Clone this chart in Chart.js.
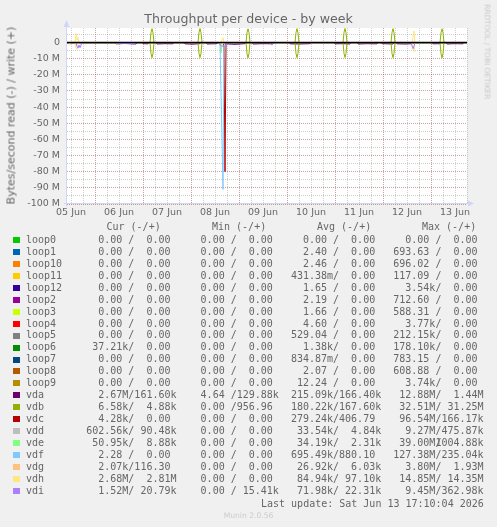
<!DOCTYPE html>
<html>
<head>
<meta charset="utf-8">
<title>Throughput per device - by week</title>
<script src="https://cdn.jsdelivr.net/npm/chart.js@4.4.1/dist/chart.umd.min.js"></script>
<style>
  body { margin: 0; background: #f0f0f0; }
  #page { position: relative; width: 497px; height: 527px; overflow: hidden; }
  #chart { position: absolute; left: 0; top: 0; }
  .txt { position: absolute; white-space: pre; color: #666; font-family: "DejaVu Sans", sans-serif; line-height: 1; }
  .mono { font-family: "DejaVu Sans Mono", monospace; font-size: 10px; }
  .swatch { position: absolute; width: 7px; height: 6px; }
  .cell { display: inline-block; position: relative; width: 15ch; }
  .cell .w { position: absolute; right: 0; top: 0; }
</style>
</head>
<body>
<div id="page">
  <canvas id="chart" width="497" height="527"></canvas>
  <div class="txt" style="left:0;width:497px;text-align:center;top:13.4px;font-size:12.6px;">Throughput per device - by week</div>
  <div class="txt" style="left:-139px;width:300px;top:109.5px;font-size:11px;text-align:center;transform:rotate(-90deg);">Bytes/second read (-) / write (+)</div>
  <div class="txt" style="left:387px;width:200px;top:48.3px;font-size:7.4px;text-align:center;color:#c8c8c8;transform:rotate(90deg);">RRDTOOL / TOBI OETIKER</div>
  <div class="txt" style="left:0;width:497px;text-align:center;top:512.1px;font-size:7.6px;color:#cccccc;">Munin 2.0.56</div>
  <div id="legend"></div>
</div>
<script>
// devices in munin order, with the munin palette
const devices = ['loop0', 'loop1', 'loop10', 'loop11', 'loop12', 'loop2', 'loop3', 'loop4', 'loop5', 'loop6', 'loop7', 'loop8', 'loop9',
  'vda', 'vdb', 'vdc', 'vdd', 'vde', 'vdf', 'vdg', 'vdh', 'vdi'];
const deviceColors = ['#00CC00', '#0066B3', '#FF8000', '#FFCC00', '#330099', '#990099', '#CCFF00', '#FF0000', '#808080', '#008F00', '#00487D', '#B35A00', '#B38F00',
  '#6B006B', '#8FB300', '#B30000', '#BEBEBE', '#80FF80', '#80C9FF', '#FFC080', '#FFE680', '#AA80FF'];

const dayLabels = ['05 Jun', '06 Jun', '07 Jun', '08 Jun', '09 Jun', '10 Jun', '11 Jun', '12 Jun', '13 Jun'];

// hours since 05 Jun 00:00, values in MB/s (read drawn negative, write positive)
const zeroHours = [10, 210];
const zeroValues = [0, 0];

const vdaHours = [10, 34, 34.5, 39, 44.5, 45, 47.5, 48, 50.5, 51, 54.5, 55, 59, 63, 63.5, 68.5, 69, 73, 76.5, 77, 79.5, 80, 85, 85.5,
  88.5, 89, 94, 99, 99.5, 102.5, 103, 108, 113, 113.5, 121, 121.5, 126, 131.5, 132, 143.5, 144, 148, 151.5, 152, 155, 155.5,
  160, 165, 165.5, 167, 167.5, 173, 173.5, 174.5, 175, 179, 183, 183.5, 192.5, 193, 196.5, 197, 199.5, 200, 204, 208, 208.5, 210];
const vdaRead = [0, 0, 0.8, 0.6, 0.9, 0, 0, 0.7, 0.8, 0, 0, 0.9, 0.7, 0.8, 0, 0, 0.8, 1.0, 0.7, 0, 0, 0.9, 0.7, 0,
  0, 0.8, 1.1, 0.7, 0, 0, 0.9, 0.7, 0.8, 0, 0, 0.8, 0.9, 0.7, 0, 0, 0.8, 0.7, 0.9, 0, 0, 0.9,
  0.7, 0.8, 0, 0, 0.7, 0.9, 0, 0, 0.8, 0.9, 0.7, 0, 0, 0.8, 0.7, 0, 0, 0.9, 0.7, 0.8, 0, 0];

const vdbHours = [10, 51.5, 52, 52.5, 53, 53.5, 75.5, 76, 76.5, 77, 77.5, 99.5, 100, 100.5, 101, 101.5, 124, 124.5, 125, 125.5, 126,
  148, 148.5, 149, 149.5, 150, 172, 172.5, 173, 173.5, 174, 196.5, 197, 197.5, 198, 198.5, 210];
const vdbRead = [0, 0, 6.8, 9.4, 6.6, 0, 0, 6.7, 9.3, 6.8, 0, 0, 6.9, 9.5, 6.7, 0, 0, 6.8, 9.4, 6.6, 0,
  0, 6.7, 9.3, 6.8, 0, 0, 6.8, 9.4, 6.7, 0, 0, 6.9, 9.5, 6.8, 0, 0];
const vdbWrite = [0, 0, 6.2, 8.6, 6.0, 0, 0, 6.3, 8.7, 6.1, 0, 0, 6.1, 8.5, 6.2, 0, 0, 6.2, 8.6, 6.0, 0,
  0, 6.3, 8.7, 6.1, 0, 0, 6.2, 8.6, 6.1, 0, 0, 6.1, 8.5, 6.2, 0, 0];

const vdcHours = [10, 88, 88.5, 89, 89.5, 90, 210];
const vdcRead = [0, 0, 2.5, 80, 1.0, 0, 0];

const vdeHours = [10, 86, 86.5, 87, 87.5, 88, 210];
const vdeRead = [0, 0, 0.5, 6.5, 0.8, 0, 0];

const vdfHours = [10, 86, 86.5, 88, 88.5, 89, 210];
const vdfRead = [0, 0, 1.0, 91, 1.5, 0, 0];

const vdgHours = [10, 11, 11.5, 12, 34.5, 35, 35.5, 210];
const vdgRead = [0, 0, 1.2, 0, 0, 1.5, 0, 0];

const vdhHours = [10, 14, 14.5, 15, 15.5, 16, 87, 87.5, 88, 88.5, 182.5, 183, 183.5, 184, 210];
const vdhRead = [0, 0, 3.5, 4.2, 1.0, 0, 0, 0.5, 0.8, 0, 0, 2.5, 5.6, 0, 0];
const vdhWrite = [0, 0, 5.8, 1.5, 3.2, 0, 0, 2.0, 3.0, 0, 0, 3.5, 7.2, 0, 0];

const vdiHours = [10, 14.5, 15, 15.5, 16, 16.5, 17.5, 34.5, 35, 44, 44.5, 86, 86.5, 87.5, 88.5, 89.5, 90, 111.5, 112, 112.5, 113, 182, 182.5, 183, 183.5, 184, 210];
const vdiRead = [0, 0, 2.5, 3.5, 1.5, 3.2, 0, 0, 0.6, 0.6, 0, 0, 1.5, 2.2, 2.5, 1.8, 0, 0, 0.6, 1.6, 0, 0, 2.0, 3.8, 2.2, 0, 0];

// legend statistics, read / write
const curRead = ['0.00', '0.00', '0.00', '0.00', '0.00', '0.00', '0.00', '0.00', '0.00', '37.21k', '0.00', '0.00', '0.00',
  '2.67M', '6.58k', '4.28k', '602.56k', '50.95k', '2.28', '2.07k', '2.68M', '1.52M'];
const curWrite = ['0.00', '0.00', '0.00', '0.00', '0.00', '0.00', '0.00', '0.00', '0.00', '0.00', '0.00', '0.00', '0.00',
  '161.60k', '4.88k', '0.00', '90.48k', '8.88k', '0.00', '116.30', '2.81M', '20.79k'];
const minRead = ['0.00', '0.00', '0.00', '0.00', '0.00', '0.00', '0.00', '0.00', '0.00', '0.00', '0.00', '0.00', '0.00',
  '4.64', '0.00', '0.00', '0.00', '0.00', '0.00', '0.00', '0.00', '0.00'];
const minWrite = ['0.00', '0.00', '0.00', '0.00', '0.00', '0.00', '0.00', '0.00', '0.00', '0.00', '0.00', '0.00', '0.00',
  '129.88k', '956.96', '0.00', '0.00', '0.00', '0.00', '0.00', '0.00', '15.41k'];
const avgRead = ['0.00', '2.40', '2.46', '431.38m', '1.65', '2.19', '1.66', '4.60', '529.04', '1.38k', '834.87m', '2.07', '12.24',
  '215.09k', '180.22k', '279.24k', '33.54k', '34.19k', '695.49k', '26.92k', '84.94k', '71.98k'];
const avgWrite = ['0.00', '0.00', '0.00', '0.00', '0.00', '0.00', '0.00', '0.00', '0.00', '0.00', '0.00', '0.00', '0.00',
  '166.40k', '167.60k', '406.79', '4.84k', '2.31k', '880.10', '6.03k', '97.10k', '22.31k'];
const maxRead = ['0.00', '693.63', '696.02', '117.09', '3.54k', '712.60', '588.31', '3.77k', '212.15k', '178.10k', '783.15', '608.88', '3.74k',
  '12.88M', '32.51M', '96.54M', '9.27M', '39.00M', '127.38M', '3.80M', '14.85M', '9.45M'];
const maxWrite = ['0.00', '0.00', '0.00', '0.00', '0.00', '0.00', '0.00', '0.00', '0.00', '0.00', '0.00', '0.00', '0.00',
  '1.44M', '31.25M', '166.17k', '475.87k', '1004.88k', '235.04k', '1.93M', '14.35M', '362.98k'];

const MAJOR = 'rgba(130,30,30,0.42)';
const MINOR = 'rgba(140,140,140,0.42)';

const xTickHours = [];
for (let h = 12; h <= 210; h += 6) xTickHours.push(h);
const yTickValues = [];
for (let v = 5; v >= -100; v -= 5) yTickValues.push(v);

function toPoints(hours, values, sign) {
  return hours.map((h, i) => ({ x: h, y: sign * values[i] }));
}

const traces = {
  vda: [vdaHours, vdaRead, null],
  vdb: [vdbHours, vdbRead, vdbWrite],
  vdc: [vdcHours, vdcRead, null],
  vde: [vdeHours, vdeRead, null],
  vdf: [vdfHours, vdfRead, null],
  vdg: [vdgHours, vdgRead, null],
  vdh: [vdhHours, vdhRead, vdhWrite],
  vdi: [vdiHours, vdiRead, null]
};

const datasets = [];
devices.forEach(function (name, i) {
  const t = traces[name] || [zeroHours, zeroValues, zeroValues];
  const style = { borderColor: deviceColors[i], borderWidth: 1, pointRadius: 0, fill: false, order: devices.length - i };
  datasets.push(Object.assign({ label: name + ' read', data: toPoints(t[0], t[1], -1) }, style));
  if (t[2]) datasets.push(Object.assign({ label: name + ' write', data: toPoints(t[0], t[2], 1) }, style));
});

// white canvas, axis lines with arrows, black zero rule on top
const muninFrame = {
  id: 'muninFrame',
  beforeDraw(chart) {
    const a = chart.chartArea, c = chart.ctx;
    c.save();
    c.fillStyle = '#ffffff';
    c.fillRect(a.left, a.top, a.right - a.left, a.bottom - a.top);
    c.restore();
  },
  beforeDatasetsDraw(chart) {
    const a = chart.chartArea, c = chart.ctx;
    c.save();
    c.strokeStyle = '#CFD6F8';
    c.fillStyle = '#CFD6F8';
    c.lineWidth = 1;
    c.beginPath();
    c.moveTo(a.left - 0.5, a.bottom + 2);
    c.lineTo(a.left - 0.5, a.top - 4);
    c.moveTo(a.left - 3, a.bottom - 0.5);
    c.lineTo(a.right + 4, a.bottom - 0.5);
    c.stroke();
    c.beginPath();
    c.moveTo(a.left - 0.5, a.top - 8);
    c.lineTo(a.left - 3.5, a.top - 1);
    c.lineTo(a.left + 2.5, a.top - 1);
    c.closePath();
    c.fill();
    c.beginPath();
    c.moveTo(a.right + 7, a.bottom - 0.5);
    c.lineTo(a.right + 1, a.bottom - 3.5);
    c.lineTo(a.right + 1, a.bottom + 2.5);
    c.closePath();
    c.fill();
    c.restore();
  },
  afterDatasetsDraw(chart) {
    const a = chart.chartArea, c = chart.ctx;
    const y0 = chart.scales.y.getPixelForValue(0);
    c.save();
    c.strokeStyle = '#000000';
    c.lineWidth = 1.6;
    c.beginPath();
    c.moveTo(a.left, y0);
    c.lineTo(a.right, y0);
    c.stroke();
    c.restore();
  }
};

Chart.defaults.font.family = '"DejaVu Sans", sans-serif';

new Chart(document.getElementById('chart').getContext('2d'), {
  type: 'line',
  data: { datasets: datasets },
  options: {
    responsive: false,
    animation: false,
    parsing: false,
    layout: { padding: { left: 0, top: 28, right: 30, bottom: 303 } },
    plugins: { legend: { display: false }, tooltip: { enabled: false }, title: { display: false } },
    scales: {
      x: {
        type: 'linear', min: 10, max: 210,
        afterBuildTicks: s => { s.ticks = xTickHours.map(v => ({ value: v })); },
        afterFit: s => { s.height = 20; },
        grid: { color: c => (c.tick && c.tick.value % 24 === 0) ? MAJOR : MINOR, drawTicks: false, lineWidth: 1 },
        border: { display: false, dash: [1, 1] },
        ticks: {
          autoSkip: false, maxRotation: 0, minRotation: 0, padding: 3, color: '#666', font: { size: 9.5 },
          callback: v => (v % 24 === 12) ? dayLabels[Math.floor(v / 24)] : ''
        }
      },
      y: {
        type: 'linear', min: -100, max: 9,
        afterBuildTicks: s => { s.ticks = yTickValues.map(v => ({ value: v })); },
        afterFit: s => { s.width = 67; },
        grid: { color: c => (c.tick && c.tick.value % 10 === 0) ? MAJOR : MINOR, drawTicks: false, lineWidth: 1 },
        border: { display: false, dash: [1, 1] },
        ticks: {
          autoSkip: false, padding: 7, color: '#666', font: { size: 9.5 },
          callback: v => (v % 10 === 0) ? (v === 0 ? '0' : v + ' M') : ''
        }
      }
    }
  },
  plugins: [muninFrame]
});

// munin style legend: Cur / Min / Avg / Max columns
function field(v) {
  const m = v.match(/^([\d.]+)([kMm]?)$/);
  return m[1].padStart(6) + (m[2] || ' ');
}
function cell(r, w) {
  return '<span class="cell"><span>' + field(r) + '/</span><span class="w">' + field(w) + '</span></span>';
}

let html = '';
const headers = ['Cur (-/+)', 'Min (-/+)', 'Avg (-/+)', 'Max (-/+)'];
const headerX = [106.5, 212, 317, 422];
headers.forEach(function (h, k) {
  html += '<div class="txt mono" style="left:' + headerX[k] + 'px;top:221.5px">' + h + '</div>';
});
devices.forEach(function (name, i) {
  const base = 243.5 + i * 11.93;
  html += '<div class="swatch" style="left:13px;top:' + Math.round(base - 6.3) + 'px;background:' + deviceColors[i] + '"></div>';
  html += '<div class="txt mono" style="left:26px;top:' + (base - 8.46).toFixed(2) + 'px">' + name.padEnd(10) +
    cell(curRead[i], curWrite[i]) + '  ' + cell(minRead[i], minWrite[i]) + '  ' +
    cell(avgRead[i], avgWrite[i]) + '  ' + cell(maxRead[i], maxWrite[i]) + '</div>';
});
html += '<div class="txt mono" style="left:261px;top:498.5px">Last update: Sat Jun 13 17:10:04 2026</div>';
document.getElementById('legend').innerHTML = html;
</script>
</body>
</html>
